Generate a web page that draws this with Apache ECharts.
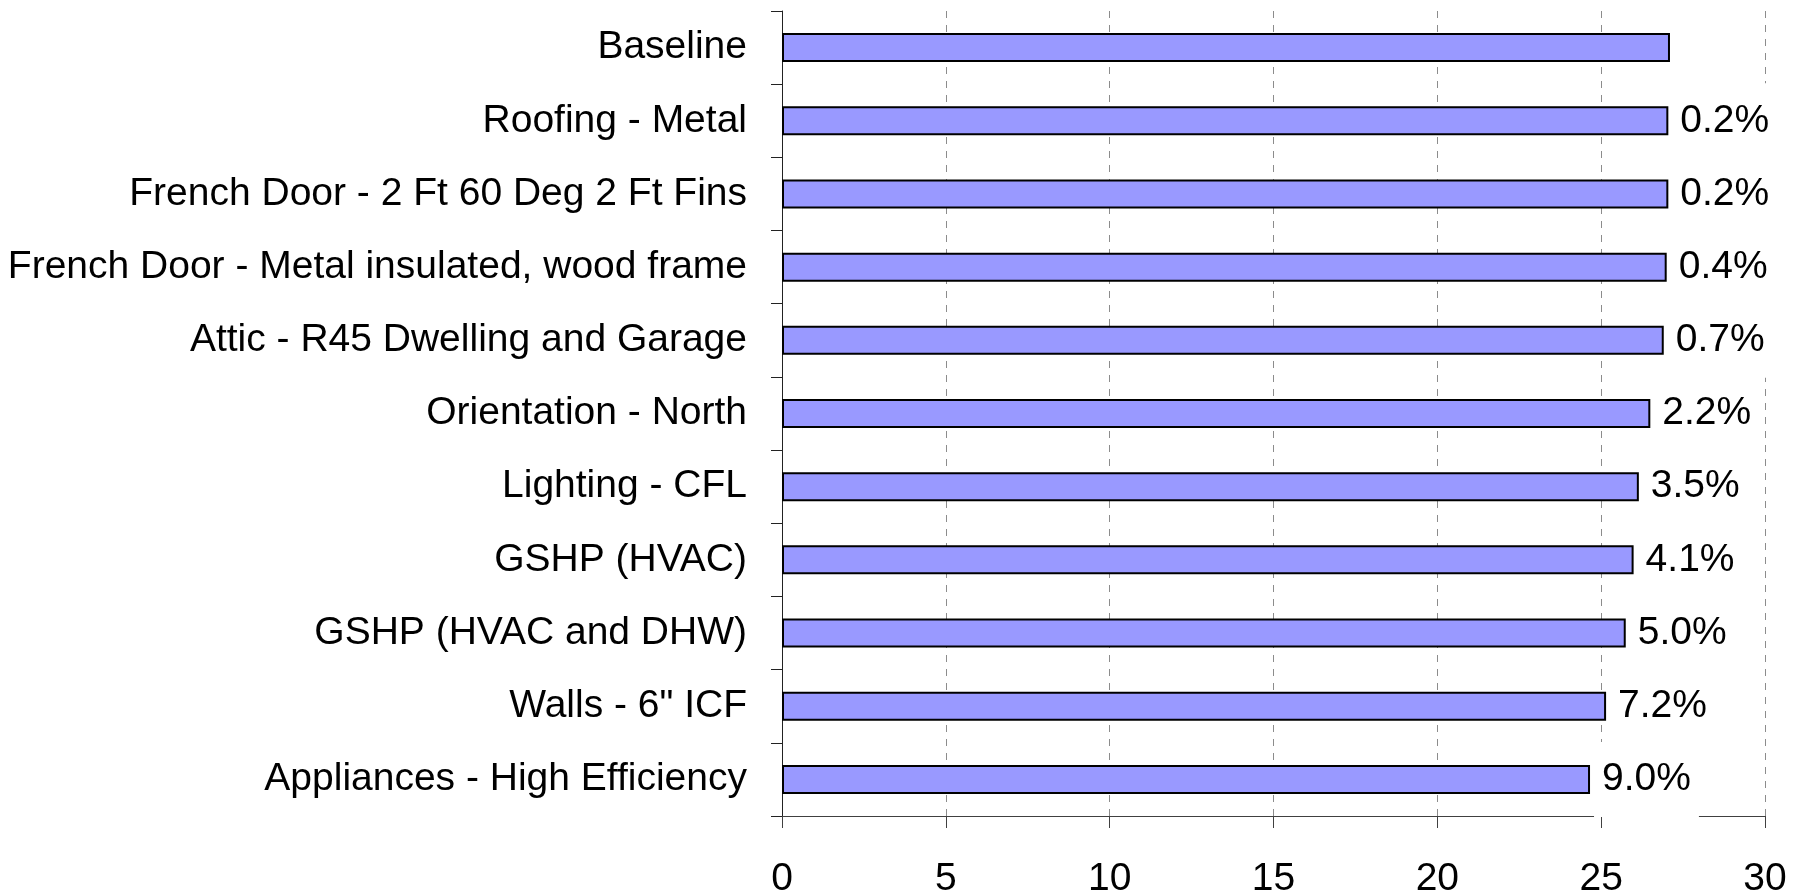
<!DOCTYPE html>
<html>
<head>
<meta charset="utf-8">
<title>Energy use by measure</title>
<script src="https://cdn.jsdelivr.net/npm/echarts@6/dist/echarts.min.js"></script>
<style>
  html, body { margin: 0; padding: 0; background: #ffffff; }
  #chart { width: 1801px; height: 890px; }
</style>
</head>
<body>
<div id="chart"></div>
<script>
// Measures, top to bottom
const measures = [
  'Baseline',
  'Roofing - Metal',
  'French Door - 2 Ft 60 Deg 2 Ft Fins',
  'French Door - Metal insulated, wood frame',
  'Attic - R45 Dwelling and Garage',
  'Orientation - North',
  'Lighting - CFL',
  'GSHP (HVAC)',
  'GSHP (HVAC and DHW)',
  'Walls - 6" ICF',
  'Appliances - High Efficiency'
];

// Annual energy use for each measure
const energyUse = [27.10, 27.05, 27.05, 27.00, 26.91, 26.50, 26.15, 25.99, 25.75, 25.15, 24.66];

// Savings relative to the baseline, shown at the end of each bar
const savingsLabels = ['', '0.2%', '0.2%', '0.4%', '0.7%', '2.2%', '3.5%', '4.1%', '5.0%', '7.2%', '9.0%'];

// Value-axis ticks
const axisMin = 0;
const axisMax = 30;
const axisStep = 5;

const FONT = "'Liberation Sans', Arial, sans-serif";

const barData = energyUse.map((v, i) => ({
  value: v,
  label: { show: savingsLabels[i] !== '' }
}));

const chart = echarts.init(document.getElementById('chart'), null, { renderer: 'canvas' });

chart.setOption({
  animation: false,
  backgroundColor: '#ffffff',
  grid: { left: 782, right: 36, top: 11, bottom: 74, containLabel: false, outerBoundsMode: 'none' },
  xAxis: {
    type: 'value',
    min: axisMin,
    max: axisMax,
    interval: axisStep,
    axisLine: { show: true, lineStyle: { color: '#404040', width: 1 } },
    axisTick: { show: true, length: 12, inside: false, lineStyle: { color: '#404040', width: 1 } },
    axisLabel: { margin: 44, color: '#000', fontFamily: FONT, fontSize: 39 },
    splitLine: { show: true, lineStyle: { color: '#8c8c8c', width: 1, type: [7, 7] } }
  },
  yAxis: {
    type: 'category',
    data: measures,
    inverse: true,
    axisLine: { show: true, lineStyle: { color: '#222', width: 1 } },
    axisTick: { show: true, length: 11, inside: false, lineStyle: { color: '#222', width: 1 } },
    axisLabel: { margin: 35, color: '#000', fontFamily: FONT, fontSize: 39 },
    splitLine: { show: false }
  },
  series: [{
    type: 'bar',
    data: barData,
    barWidth: 29,
    itemStyle: { color: '#9999ff', borderColor: '#000', borderWidth: 2 },
    label: {
      position: 'right',
      distance: 4,
      color: '#000',
      fontFamily: FONT,
      fontSize: 39,
      backgroundColor: '#ffffff',
      padding: [18, 8],
      formatter: (p) => savingsLabels[p.dataIndex]
    }
  }]
});
</script>
</body>
</html>
